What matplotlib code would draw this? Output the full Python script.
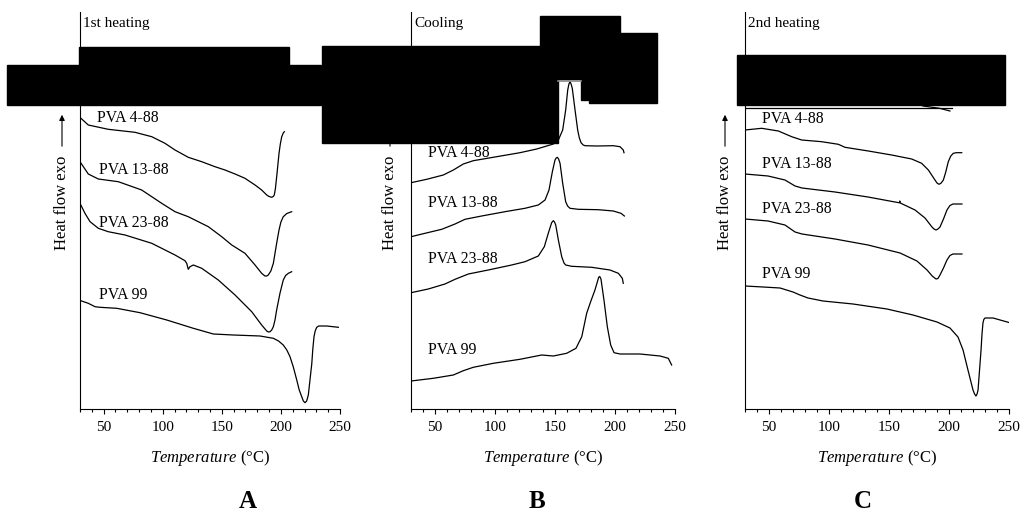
import numpy as np
import matplotlib
matplotlib.use("Agg")
import matplotlib.pyplot as plt
from matplotlib.patches import Rectangle, FancyArrowPatch

# DSC curves of PVA grades, heat flow in arbitrary units (exo up)
samples = ["PVA 4-88", "PVA 13-88", "PVA 23-88", "PVA 99"]

# --- A: 1st heating ---
a488_t = [30, 30.8, 37.0, 53.9, 76.5, 90.7, 101.9, 110.4, 121.6, 133.0, 144.2, 152.7, 161.2,
          169.6, 178.1, 183.7, 188.0, 190.0, 192.2, 193.5, 194.4, 195.3, 196.4, 197.5, 198.4,
          199.5, 200.7, 202.0, 202.9]
a488_hf = [291, 290.7, 284, 279.7, 276.7, 272.3, 265.7, 259, 251.7, 247.3, 242.3, 239, 235,
           230.7, 224, 219, 214, 212.5, 211.7, 212.5, 214, 220, 232, 245, 255.7,
           265, 272.3, 276, 277.3]

a1388_t = [30, 37.0, 45.5, 62.4, 82.2, 99.1, 110.4, 121.6, 138.6, 149.9, 158.4, 169.6, 178.1,
           183.7, 186.5, 188.0, 189.3, 191.5, 193.6, 196.4, 198.4, 200.0, 202.0, 205.0, 209.1]
a1388_hf = [247.3, 235, 230, 227.3, 219, 205.7, 197.3, 192.3, 182.3, 172.3, 164, 155.7, 144,
            135.7, 133, 133, 134, 138, 145.7, 165.7, 179, 187, 192.3, 195.5, 197.3]

a2388_t = [30, 34.2, 38.5, 45.5, 53.9, 68.1, 90.7, 110.4, 118.8, 120.3, 121.6, 123.1, 125.9,
           133.0, 147.0, 161.2, 175.3, 183.7, 188.0, 189.4, 190.8, 192.2, 193.6, 195.0, 196.4,
           199.2, 202.0, 204.0, 206.3, 209.1]
a2388_hf = [205.7, 195.7, 187.3, 180.7, 177.3, 174, 165.7, 154, 148.3, 145.7, 139.7, 142.3, 144,
            140.7, 129, 114, 97.3, 84, 78, 77, 77.3, 79, 82.3, 89, 99,
            115.7, 129, 133.5, 135.7, 137.3]

a99_t = [30, 30.6, 37.0, 42.7, 46.9, 61.1, 80.8, 103.4, 125.9, 142.8, 159.7, 182.3, 193.6, 198.0,
         202.0, 205.0, 207.7, 210.5, 213.4, 215.5, 217.6, 219.0, 220.4, 221.8, 223.2, 224.5,
         226.1, 227.0, 228.0, 229.0, 230.3, 232.0, 238.8, 248.6]
a99_hf = [109, 108.3, 105.7, 102.3, 101.7, 100.7, 96.3, 89, 80.7, 75, 74, 73, 70.7, 68,
          64, 59, 52.3, 42, 29, 19, 12.3, 8, 6.3, 8, 14, 28,
          45, 60, 72.3, 78, 81.7, 83, 83, 81.7]

# --- B: cooling ---
b488_t = [30, 43.1, 56.9, 65.3, 73.6, 81.9, 101.4, 120.8, 134.8, 148.6, 152.8, 156.4, 158.9,
          160.6, 161.6, 162.5, 163.4, 164.4, 166.7, 168.9, 170.3, 171.7, 173.5, 175.0, 184.8,
          198.6, 204.2, 206.9, 207.5]
b488_hf = [226.3, 229.7, 234, 239, 245, 248.3, 252.3, 256.3, 260, 265, 269, 279, 299,
           319, 325, 327.3, 325, 320.7, 299, 279, 271, 266.3, 264, 263.3, 263,
           263.3, 262.3, 259, 256.3]

b1388_t = [30, 41.7, 55.6, 66.7, 75, 88.9, 108.3, 125, 136.1, 141.7, 145, 147.8, 150, 151.0,
           151.9, 153.0, 154.2, 156.4, 158.9, 160.5, 162.5, 169.4, 186.1, 198.6, 205, 207.8]
b1388_hf = [172.3, 175.7, 179.7, 185, 189.7, 193, 197.3, 200.7, 204, 209, 219, 237.3, 249, 251,
            251.7, 250, 245.7, 225.7, 207.3, 203, 200.7, 199.7, 199.3, 198, 195.7, 193]

b2388_t = [30, 44.4, 58.3, 66.7, 77.8, 94.4, 113.9, 125, 136.1, 141.1, 144.4, 147.2, 148.6,
           149.6, 150.6, 152.8, 155.6, 157.5, 158.9, 163.9, 180.6, 195.8, 202.8, 206.1, 206.9]
b2388_hf = [116.3, 120, 125, 129.7, 135, 139, 144, 147.3, 153, 162.3, 175.7, 186.3, 188.3,
            187, 184, 169, 152.3, 146, 144, 142.7, 141.7, 139, 135.7, 130.7, 125.7]

b99_t = [30, 48.6, 65.3, 73.6, 81.9, 98.6, 120.8, 138.9, 148.6, 159.7, 167.5, 172.3, 176.4,
         179.7, 183.3, 186.4, 187.3, 188.3, 190.8, 193.6, 196.4, 199.2, 204.2, 220.8, 237.5,
         244.4, 247.2]
b99_hf = [28, 30.7, 34, 38.3, 41.7, 45.7, 49.7, 54, 53, 55.7, 60.7, 72.3, 95.7,
          107.3, 119, 131.7, 132.5, 130, 109, 82.3, 64, 56.3, 55, 55, 53,
          50.7, 44]

# --- C: 2nd heating ---
c_top_t = [30, 202.5]
c_top_hf = [301.3, 301.3]
c_tail_t = [178.3, 192.2, 200.8]
c_tail_hf = [303, 300.7, 298]

c488_t = [30, 43.9, 57.8, 68.9, 77.2, 93.9, 107.8, 113.3, 132.8, 152.2, 168.9, 177.2, 182.8,
          188.3, 190.0, 191.7, 193.5, 195.3, 197.3, 199.4, 201.5, 203.6, 206.0, 210.6]
c488_hf = [279, 280.7, 278, 272.3, 269, 267.3, 264.7, 261.7, 258, 254, 250, 245.7, 239,
           229, 226, 224.7, 226, 229, 237, 247.3, 253, 255.7, 256.3, 256.3]

c1388_t = [30, 49.2, 63.3, 71.7, 77.5, 105, 132.5, 158.6, 159.0, 159.4, 171.7, 180, 185.8,
           187.5, 189.2, 190.8, 192.5, 195.4, 198.3, 200.8, 203.3, 210.8]
c1388_hf = [235, 233, 229, 223, 221, 217, 212, 206.2, 208, 206, 199, 191, 182,
            180, 179, 180, 182, 190, 199, 203.5, 205, 205]

c2388_t = [30, 49.2, 63.3, 71.7, 77.5, 105, 132.5, 159.2, 173.3, 181.7, 186.0, 189.2, 190.8,
           192.5, 195.4, 198.3, 200.8, 203.3, 210.8]
c2388_hf = [190, 188, 184, 177, 175, 170, 164, 156, 148, 139, 133, 130, 130.5,
            134, 141, 149, 153.5, 155, 155]

c99_t = [30, 45, 59.2, 70, 75.8, 82.5, 95, 120, 148.3, 170, 190, 200.8, 207.5, 211.7, 215.8,
         220, 221.3, 222.5, 223.4, 224.2, 226.7, 227.5, 228.3, 229.0, 230, 236.7, 250]
c99_hf = [123, 122, 121, 117, 114, 111, 108, 105, 100, 94, 87, 81, 72, 59, 39,
          19, 15, 13, 15, 19, 59, 75, 86, 89.5, 91, 91, 86.5]

plt.rcParams["font.family"] = ["Liberation Serif", "DejaVu Serif"]
plt.rcParams["mathtext.fontset"] = "custom"
plt.rcParams["mathtext.rm"] = "Liberation Serif"
plt.rcParams["mathtext.it"] = "Liberation Serif:italic"

W, H = 1024, 513
fig = plt.figure(figsize=(W / 100, H / 100), dpi=100)


def fig_box(x0, y0, x1, y1):
    # pixel box (top-left origin) -> figure fraction rect
    return [x0 / W, 1 - y1 / H, (x1 - x0) / W, (y1 - y0) / H]


panels = [
    {"box": (80, 12, 340, 409), "title": "1st heating", "letter": "A", "letter_x": 248,
     "ylab_x": 62, "curves": [(a488_t, a488_hf), (a1388_t, a1388_hf), (a2388_t, a2388_hf), (a99_t, a99_hf)],
     "labels": [(44.1, 287.3), (46.1, 235), (46.1, 181.7), (46.1, 109.7)]},
    {"box": (411, 12, 675, 409), "title": "Cooling", "letter": "B", "letter_x": 537,
     "ylab_x": 390, "curves": [(b488_t, b488_hf), (b1388_t, b1388_hf), (b2388_t, b2388_hf), (b99_t, b99_hf)],
     "labels": [(44.4, 252.3), (44.4, 202.3), (44.4, 146.3), (44.4, 55)]},
    {"box": (745, 12, 1009, 409), "title": "2nd heating", "letter": "C", "letter_x": 863,
     "ylab_x": 725, "curves": [(c488_t, c488_hf), (c1388_t, c1388_hf), (c2388_t, c2388_hf), (c99_t, c99_hf),
                               (c_top_t, c_top_hf), (c_tail_t, c_tail_hf)],
     "labels": [(43.9, 285.7), (43.9, 240.7), (43.9, 195.7), (43.9, 130.7)]},
]

for p in panels:
    ax = fig.add_axes(fig_box(*p["box"]))
    for t, hf in p["curves"]:
        ax.plot(t, hf, color="black", lw=0.9, solid_joinstyle="round")
    for name, (lx, ly) in zip(samples, p["labels"]):
        ax.text(lx, ly, name, fontsize=11.3, ha="left", va="baseline")
    ax.text(32.5, 382.5, p["title"], fontsize=11, ha="left", va="baseline")

    ax.set_xlim(30, 250)
    ax.set_ylim(0, 397)
    ax.set_xticks([50, 100, 150, 200, 250])
    ax.set_xticks(np.arange(30, 251, 10), minor=True)
    ax.set_yticks([])
    ax.tick_params(axis="x", which="major", direction="out", length=3.5, width=0.8,
                   labelsize=11, pad=5)
    ax.tick_params(axis="x", which="minor", direction="out", length=2, width=0.8)
    for side in ["top", "right"]:
        ax.spines[side].set_visible(False)
    for side in ["left", "bottom"]:
        ax.spines[side].set_linewidth(0.8)
    ax.set_xlabel(r"$\it{Temperature}$ (°C)", fontsize=12, labelpad=10)

    # y label with arrow
    fig.text(p["ylab_x"] / W, 1 - 203 / H, "Heat flow exo", rotation=90, fontsize=12,
             ha="center", va="center")
    fig.add_artist(FancyArrowPatch(
        (p["ylab_x"] / W, 1 - 149 / H), (p["ylab_x"] / W, 1 - 112 / H),
        transform=fig.transFigure, arrowstyle="-|>", mutation_scale=8, lw=0.8, color="black"))

    fig.text(p["letter_x"] / W, 1 - 502 / H, p["letter"], fontsize=18, fontweight="bold",
             ha="center", va="center")

# redaction blocks over the original figure
blocks = [
    (79, 47, 289, 65), (7, 65, 321, 105),
    (322, 46, 558, 143), (540, 16, 620, 79), (581, 70, 588, 100), (589, 33, 657, 103),
    (737, 55, 1005, 105),
]
for x0, y0, x1, y1 in blocks:
    fig.add_artist(Rectangle((x0 / W, 1 - y1 / H), (x1 - x0) / W, (y1 - y0) / H,
                             transform=fig.transFigure, color="black", zorder=10))
fig.add_artist(plt.Line2D([558 / W, 581 / W], [1 - 81 / H, 1 - 81 / H], transform=fig.transFigure,
                          color="#888888", lw=1.2, zorder=10))

plt.savefig("out.png", dpi=100)
